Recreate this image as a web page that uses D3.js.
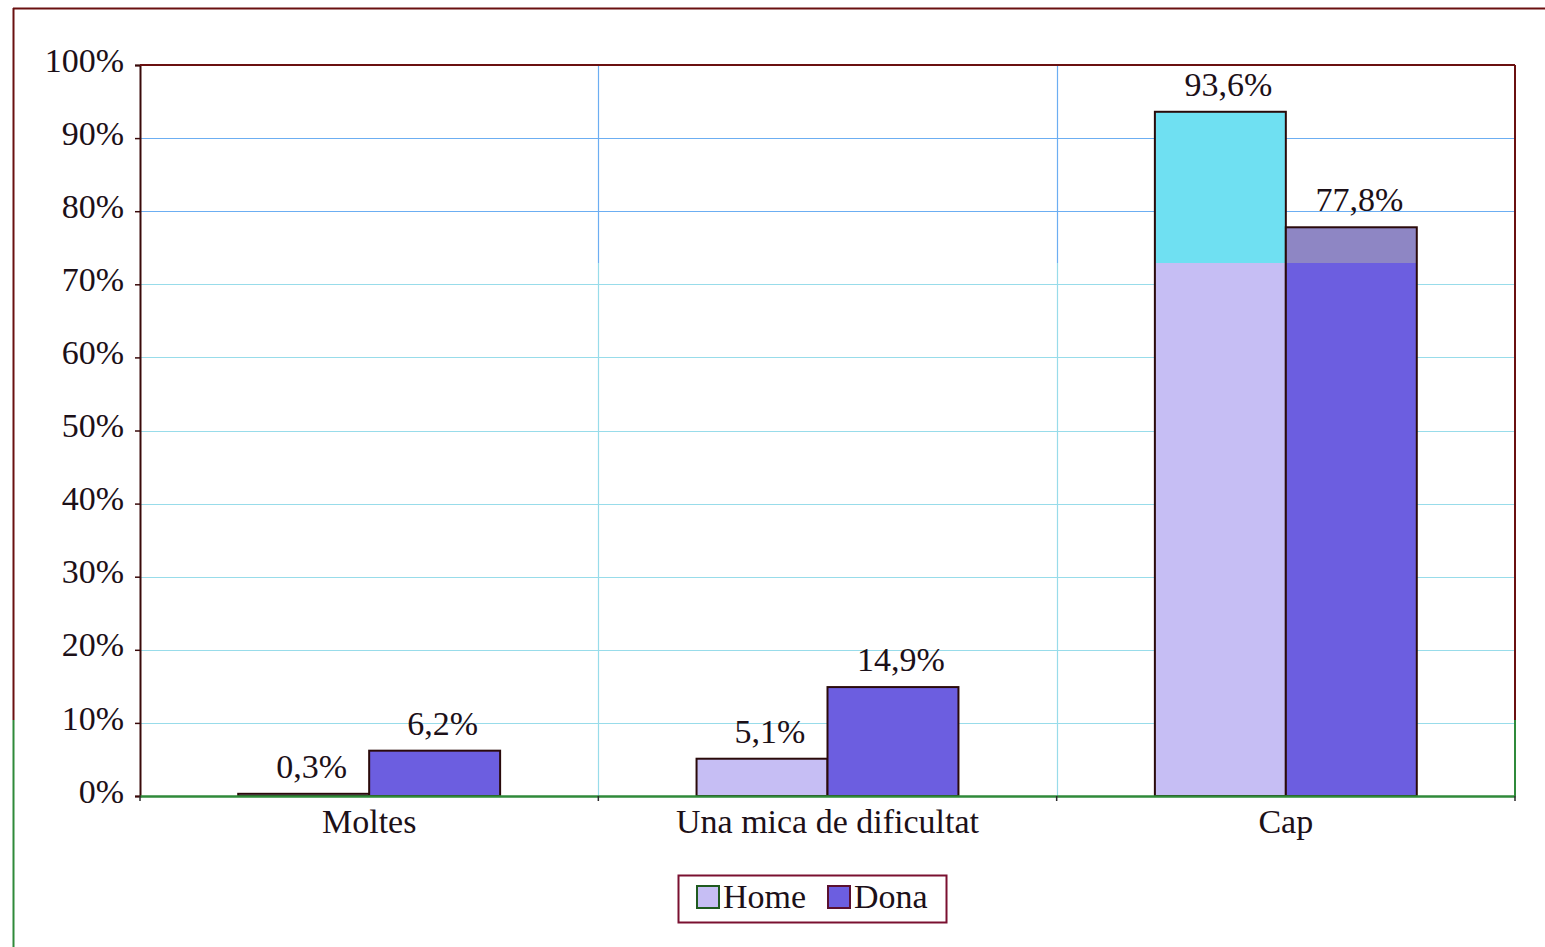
<!DOCTYPE html>
<html><head><meta charset="utf-8">
<script src="https://cdn.jsdelivr.net/npm/d3@7"></script>
<style>html,body{margin:0;padding:0;background:#fff;}svg{display:block;}</style>
</head><body>
<script>
const categories = ["Moltes", "Una mica de dificultat", "Cap"];
const seriesNames = ["Home", "Dona"];
const homeValues = [0.3, 5.1, 93.6];
const donaValues = [6.2, 14.9, 77.8];
const yTicks = [0, 10, 20, 30, 40, 50, 60, 70, 80, 90, 100];

const W = 1545, H = 947;
const m = {left: 140, right: 30, top: 65, bottom: 151};
const iw = W - m.left - m.right, ih = H - m.top - m.bottom;
const splitY = 263;   // palette band split in the original picture (absolute px)
const lowY = 720;
const font = "Liberation Serif, Times New Roman, serif";
const fs = 34;
const txt = "#1c1018";

const svg = d3.select("body").append("svg").attr("width", W).attr("height", H);
const defs = svg.append("defs");
// gradients in absolute page coordinates; elements are drawn in root space
function grad(id, cTop, cBot, at) {
  const g = defs.append("linearGradient").attr("id", id)
    .attr("gradientUnits", "userSpaceOnUse").attr("x1", 0).attr("x2", 0).attr("y1", 0).attr("y2", H);
  g.append("stop").attr("offset", at / H).attr("stop-color", cTop);
  g.append("stop").attr("offset", at / H).attr("stop-color", cBot);
  return `url(#${id})`;
}
const fillHome = grad("gHome", "#6fe0f2", "#c6bef4", splitY);
const fillDona = grad("gDona", "#8e86c4", "#6c5ee0", splitY);
const gridV = grad("gGridV", "#6caef2", "#98dcea", splitY);
const frameC = grad("gFrame", "#6a1010", "#2f8a3a", lowY);

// outer frame
svg.append("line").attr("x1", 13.5).attr("x2", 13.5).attr("y1", 8).attr("y2", H).attr("stroke", frameC).attr("stroke-width", 2);
svg.append("line").attr("x1", 13).attr("x2", W).attr("y1", 8.5).attr("y2", 8.5).attr("stroke", "#6a1010").attr("stroke-width", 2);

const x = d3.scaleBand().domain(categories).range([m.left, m.left + iw]).paddingInner(0).paddingOuter(0);
const xs = d3.scaleBand().domain(seriesNames).range([0, x.bandwidth()]).paddingInner(0).paddingOuter(0.75);
const y = d3.scaleLinear().domain([0, 100]).range([m.top + ih, m.top]);

// horizontal gridlines
svg.append("g").selectAll("line").data(yTicks.filter(d => d > 0 && d < 100)).join("line")
  .attr("x1", m.left).attr("x2", m.left + iw)
  .attr("y1", d => Math.round(y(d)) + 0.5).attr("y2", d => Math.round(y(d)) + 0.5)
  .attr("stroke", d => y(d) < splitY ? "#6caef2" : "#98dcea").attr("stroke-width", 1.2);
// vertical gridlines at category boundaries
const bounds = categories.slice(1).map(c => x(c));
svg.append("g").selectAll("line").data(bounds).join("line")
  .attr("x1", d => Math.round(d) + 0.5).attr("x2", d => Math.round(d) + 0.5)
  .attr("y1", m.top).attr("y2", m.top + ih)
  .attr("stroke", gridV).attr("stroke-width", 1.2);

// y axis
const yAxis = svg.append("g").attr("transform", `translate(${m.left},0)`)
  .call(d3.axisLeft(y).tickValues(yTicks).tickFormat(d => d + "%").tickSize(5).tickPadding(11));
yAxis.select(".domain").attr("stroke", "#3a0a0a").attr("stroke-width", 2);
yAxis.selectAll(".tick line").attr("stroke", "#3a0a0a").attr("stroke-width", 1.5);
yAxis.selectAll("text").attr("font-family", font).attr("font-size", fs).attr("fill", txt).attr("dy", "0.18em");

// top & right border
svg.append("line").attr("x1", m.left).attr("x2", m.left + iw).attr("y1", m.top).attr("y2", m.top)
  .attr("stroke", "#6a1010").attr("stroke-width", 2);
svg.append("line").attr("x1", m.left + iw).attr("x2", m.left + iw).attr("y1", m.top).attr("y2", m.top + ih)
  .attr("stroke", frameC).attr("stroke-width", 2);

// bars
const rows = categories.map((c, i) => ({cat: c, vals: [{s: "Home", v: homeValues[i], c}, {s: "Dona", v: donaValues[i], c}]}));
const all = rows.flatMap(r => r.vals);
svg.append("g").selectAll("rect").data(all).join("rect")
  .attr("x", d => x(d.c) + xs(d.s)).attr("width", xs.bandwidth())
  .attr("y", d => y(d.v)).attr("height", d => Math.max(y(0) - y(d.v), 0.5))
  .attr("fill", d => d.s === "Home" ? fillHome : fillDona)
  .attr("stroke", "#2a0a0a").attr("stroke-width", 2);
svg.append("g").selectAll("text").data(all).join("text")
  .attr("x", d => x(d.c) + xs(d.s) + xs.bandwidth() / 2 + 8).attr("y", d => y(d.v) - 16)
  .attr("text-anchor", "middle").attr("font-family", font).attr("font-size", fs).attr("fill", txt)
  .text(d => d.v.toFixed(1).replace(".", ",") + "%");

// x axis
const xAxis = svg.append("g").attr("transform", `translate(0,${m.top + ih})`)
  .call(d3.axisBottom(x).tickSize(0).tickPadding(37));
xAxis.select(".domain").attr("stroke", "#2f8a3a").attr("stroke-width", 2.5);
xAxis.selectAll("text").attr("font-family", font).attr("font-size", fs).attr("fill", txt).attr("dy", "0");
svg.append("g").selectAll("line").data([m.left, ...bounds, m.left + iw]).join("line")
  .attr("x1", d => d).attr("x2", d => d).attr("y1", m.top + ih).attr("y2", m.top + ih + 5)
  .attr("stroke", "#2a2a2a").attr("stroke-width", 1.5);

// legend
const lg = svg.append("g").attr("transform", "translate(678,875)");
lg.append("rect").attr("x", 0.5).attr("y", 0.5).attr("width", 268).attr("height", 47)
  .attr("fill", "#fff").attr("stroke", "#7a1030").attr("stroke-width", 2);
const items = lg.selectAll("g.it").data(seriesNames).join("g").attr("class", "it")
  .attr("transform", (d, i) => `translate(${19 + i * 131},11)`);
items.append("rect").attr("width", 22).attr("height", 22)
  .attr("fill", d => d === "Home" ? "#c6bef4" : "#6c5ee0")
  .attr("stroke", d => d === "Home" ? "#1f5a1f" : "#5a1030").attr("stroke-width", 2);
items.append("text").attr("x", 26).attr("y", 22).attr("font-family", font).attr("font-size", fs).attr("fill", txt).text(d => d);
</script>
</body></html>
